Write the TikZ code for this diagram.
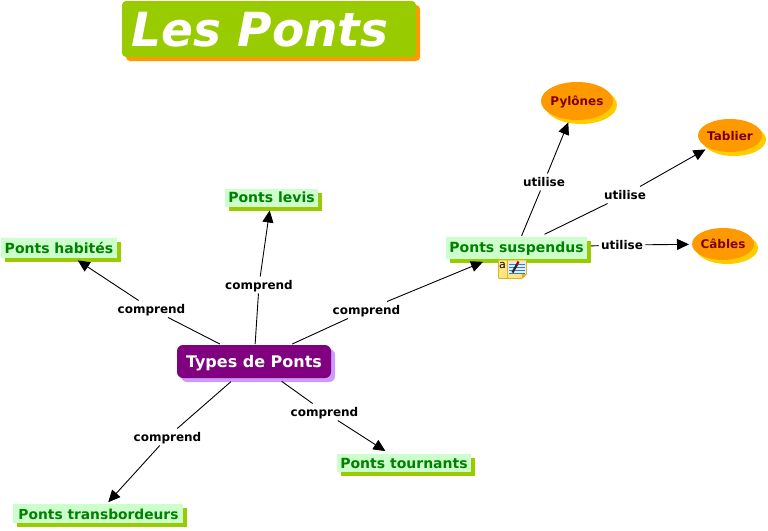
\documentclass[tikz,border=0pt]{standalone}
\usepackage{fontspec}
\setmainfont{DejaVu Sans}
\usetikzlibrary{arrows.meta,shapes.geometric,shadows}
\definecolor{conceptfill}{HTML}{CCFFCC}
\definecolor{conceptshadow}{HTML}{99CC00}
\definecolor{concepttext}{HTML}{008000}
\definecolor{ovalfill}{HTML}{FF9900}
\definecolor{ovalshadow}{HTML}{FFCC00}
\definecolor{ovaltext}{HTML}{800000}
\definecolor{rootfill}{HTML}{800080}
\definecolor{rootshadow}{HTML}{CC99FF}
\definecolor{notefill}{HTML}{FFE680}
\definecolor{noteedge}{HTML}{E6AE22}
\definecolor{notepanel}{HTML}{DDEEFF}
\definecolor{noteline}{HTML}{2E7FD0}
\tikzset{
  concept/.style={rectangle,fill=conceptfill,text=concepttext,font=\bfseries\fontsize{14}{16}\selectfont,
    inner sep=0pt,outer sep=4pt,text height=13pt,text depth=2.5pt,
    copy shadow={shadow xshift=4pt,shadow yshift=-4pt,fill=conceptshadow,draw=none}},
  oval/.style={ellipse,fill=ovalfill,text=ovaltext,font=\bfseries\fontsize{12}{14}\selectfont,
    inner xsep=-8pt,inner ysep=-3pt,outer sep=3pt,text height=11pt,text depth=2pt,
    copy shadow={shadow xshift=4pt,shadow yshift=-4pt,fill=ovalshadow,draw=none}},
  root/.style={rectangle,rounded corners=6pt,fill=rootfill,text=white,font=\bfseries\fontsize{16}{18}\selectfont,
    inner sep=0pt,outer sep=1pt,text height=14pt,text depth=3pt,
    copy shadow={shadow xshift=4pt,shadow yshift=-4pt,fill=rootshadow,draw=none}},
  titlebox/.style={rectangle,rounded corners=4pt,fill=conceptshadow,text=white,
    font=\bfseries\itshape\fontsize{47}{50}\selectfont,inner sep=0pt,text height=34pt,text depth=0pt,
    copy shadow={shadow xshift=4pt,shadow yshift=-4pt,fill=ovalfill,draw=none}},
  linklabel/.style={fill=white,text=black,font=\bfseries\fontsize{12}{15}\selectfont,
    inner xsep=2.5pt,inner ysep=0pt,minimum height=17pt,outer sep=0pt,text height=11.5pt,text depth=2.5pt},
  link/.style={draw=black,line width=0.9pt},
  linkto/.style={link,-{Triangle[length=12pt,width=11pt]}},
}
\begin{document}
\begin{tikzpicture}[x=1pt,y=-1pt]
\useasboundingbox (0,0) rectangle (768,530);
\node[titlebox,minimum width=294pt,minimum height=56pt] (title) at (269,29) {\hspace*{-18pt}Les Ponts};
\node[root,minimum width=154pt,minimum height=33pt] (types) at (254,361.5) {Types de Ponts};
\node[concept,minimum width=93pt,minimum height=18pt] (levis) at (271.5,197.5) {Ponts levis};
\node[concept,minimum width=116pt,minimum height=20pt] (habites) at (59,248) {Ponts habités};
\node[concept,text height=12pt,minimum width=141pt,minimum height=22pt] (susp) at (516.5,248) {Ponts suspendus};
\node[concept,text height=14.5pt,minimum width=170pt,minimum height=19pt] (trans) at (98,513.5) {\hspace*{1pt}\fontsize{13.8}{16}\selectfont Ponts transbordeurs};
\node[concept,minimum width=134pt,minimum height=18pt] (tourn) at (404,463) {Ponts tournants};
\node[oval,minimum width=72pt,minimum height=38pt] (pylones) at (577,101) {Pylônes};
\node[oval,minimum width=64pt,minimum height=33pt] (tablier) at (730,135.5) {Tablier};
\node[oval,minimum width=62pt,minimum height=32pt] (cables) at (723,244) {Câbles};
\node[linklabel] (l1) at (259,285) {comprend};
\node[linklabel] (l2) at (151.5,309) {comprend};
\node[linklabel] (l3) at (366.5,310) {comprend};
\node[linklabel] (l4) at (167.5,437) {comprend};
\node[linklabel] (l5) at (324.5,412) {comprend};
\node[linklabel] (l6) at (544,182) {utilise};
\node[linklabel] (l7) at (625,195) {utilise};
\node[linklabel] (l8) at (622,245) {utilise};
\draw[link] (types) -- (l1);
\draw[linkto] (l1) -- (levis);
\draw[link] (types) -- (l2);
\draw[linkto,shorten >=-3pt] (l2) -- (habites);
\draw[link] (types) -- (l3);
\draw[linkto,shorten >=-3pt] (l3) -- (susp);
\draw[link,shorten <=4pt] (types) -- (l4);
\draw[linkto,shorten >=-3pt] (l4) -- (trans);
\draw[link,shorten <=4pt] (types) -- (l5);
\draw[linkto,shorten >=-2pt] (l5) -- (tourn);
\draw[link,shorten <=-3pt] (susp) -- (l6);
\draw[linkto] (l6) -- (pylones);
\draw[link,shorten <=-3pt] (susp) -- (l7);
\draw[linkto] (l7) -- (tablier);
\draw[link] (susp) -- (l8);
\draw[linkto] (l8) -- (cables);
% note icon
\fill[notefill,draw=noteedge,line width=0.9pt,rounded corners=0.8pt] (498.5,260) -- (526.5,260) -- (526.5,274) -- (522,278.5) -- (498.5,278.5) -- cycle;
\fill[noteedge] (522,278.5) -- (522,274) -- (526.5,274) -- cycle;
\draw[noteedge,line width=0.6pt] (507,260) -- (507,278);
\fill[notepanel] (508,262) rectangle (526,274);
\node[font=\fontsize{11}{11}\selectfont,text=black,inner sep=0pt] (notea) at (502.5,265.5) {a};
\foreach \yy in {264,267,270,273} \draw[noteline,line width=0.8pt] (509,\yy) -- (525,\yy);
\draw[black!85,line width=2.2pt] (512.5,272.5) -- (517,264.5);
\draw[red!70!black,line width=2.2pt] (517,264.5) -- (518.5,261.5);
\end{tikzpicture}
\end{document}
